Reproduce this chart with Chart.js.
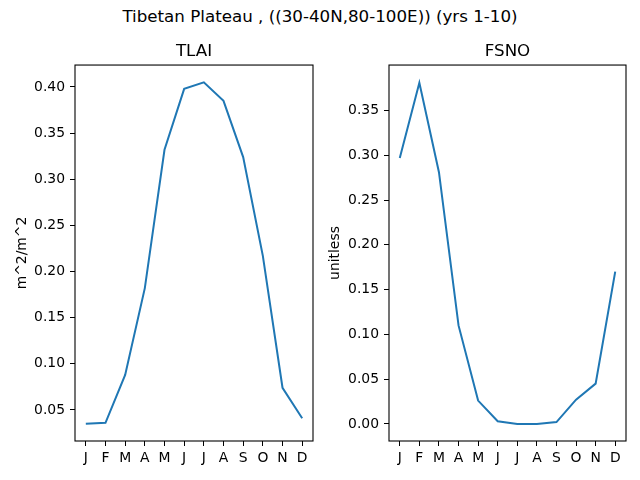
<!DOCTYPE html>
<html>
<head>
<meta charset="utf-8">
<script src="https://cdn.jsdelivr.net/npm/chart.js@4.4.0/dist/chart.umd.min.js"></script>
<style>
    body { margin: 0; background: #fff; }
    #wrap { position: relative; width: 640px; height: 480px; }
    #suptitle {
        position: absolute; left: 0; top: 6px; width: 640px; text-align: center;
        font-family: 'DejaVu Sans', sans-serif; font-size: 16.7px; color: #000;
    }
    .panel { position: absolute; top: 0; width: 320px; height: 480px; }
</style>
</head>
<body>
<div id="wrap">
    <div id="suptitle">Tibetan Plateau , ((30-40N,80-100E)) (yrs 1-10)</div>
    <div class="panel" style="left:0"><canvas id="tlaiChart"></canvas></div>
    <div class="panel" style="left:320px"><canvas id="fsnoChart"></canvas></div>
</div>
<script>
// Data
const months = ['J', 'F', 'M', 'A', 'M', 'J', 'J', 'A', 'S', 'O', 'N', 'D'];
const tlaiValues = [0.035, 0.036, 0.088, 0.182, 0.332, 0.398, 0.405, 0.385, 0.324, 0.217, 0.074, 0.041];
const fsnoValues = [0.297, 0.381, 0.281, 0.110, 0.026, 0.003, 0.000, 0.000, 0.002, 0.027, 0.045, 0.170];
const tlaiTicks = [0.05, 0.10, 0.15, 0.20, 0.25, 0.30, 0.35, 0.40];
const fsnoTicks = [0.00, 0.05, 0.10, 0.15, 0.20, 0.25, 0.30, 0.35];

Chart.defaults.font.family = "'DejaVu Sans', sans-serif";
Chart.defaults.color = '#000';

// Draw the full box around the plot area like matplotlib spines,
// and centre the panel title over the plot area rather than the canvas
const frame = {
    id: 'frame',
    afterLayout(chart) {
        if (chart.titleBlock) {
            chart.titleBlock.left = chart.chartArea.left;
            chart.titleBlock.right = chart.chartArea.right;
        }
    },
    afterDraw(chart) {
        const a = chart.chartArea;
        const ctx = chart.ctx;
        ctx.save();
        ctx.strokeStyle = '#000';
        ctx.lineWidth = 1.1;
        ctx.strokeRect(a.left, a.top, a.right - a.left, a.bottom - a.top);
        ctx.restore();
    }
};

function makePanel(canvasId, title, yLabel, values, ticks, yMin, yMax, yWidth, titlePad, rightPad) {
    const ctx = document.getElementById(canvasId);
    return new Chart(ctx, {
        type: 'line',
        data: {
            datasets: [{
                data: values.map((v, i) => ({ x: i, y: v })),
                borderColor: '#1f77b4',
                borderWidth: 2,
                pointRadius: 0,
                tension: 0,
                fill: false
            }]
        },
        options: {
            responsive: true,
            maintainAspectRatio: false,
            animation: false,
            layout: { padding: { left: 0, right: rightPad, top: 0, bottom: 0 } },
            plugins: {
                legend: { display: false },
                tooltip: { enabled: false },
                title: {
                    display: true,
                    text: title,
                    font: { size: 16.7, weight: 'normal' },
                    padding: { top: 42, bottom: 3 }
                }
            },
            scales: {
                x: {
                    type: 'linear',
                    min: -0.55,
                    max: 11.55,
                    afterBuildTicks: s => { s.ticks = months.map((m, i) => ({ value: i })); },
                    afterFit: s => { s.height = 39; },
                    ticks: {
                        autoSkip: false,
                        maxRotation: 0,
                        padding: 4,
                        font: { size: 13.9 },
                        callback: v => months[v]
                    },
                    grid: { drawOnChartArea: false, tickLength: 5, color: '#000', lineWidth: 1 },
                    border: { display: false }
                },
                y: {
                    min: yMin,
                    max: yMax,
                    afterBuildTicks: s => { s.ticks = ticks.map(v => ({ value: v })); },
                    afterFit: s => { s.width = yWidth; },
                    ticks: {
                        padding: 5,
                        font: { size: 13.9 },
                        callback: v => v.toFixed(2)
                    },
                    grid: { drawOnChartArea: false, tickLength: 5, color: '#000', lineWidth: 1 },
                    border: { display: false },
                    title: {
                        display: true,
                        text: yLabel,
                        font: { size: 13.9 },
                        padding: { top: titlePad, bottom: 0 }
                    }
                }
            }
        },
        plugins: [frame]
    });
}

makePanel('tlaiChart', 'TLAI', 'm^2/m^2', tlaiValues, tlaiTicks, 0.0163, 0.4238, 75, 13.7, 7);
makePanel('fsnoChart', 'FSNO', 'unitless', fsnoValues, fsnoTicks, -0.0191, 0.4007, 69, 6.7, 14);
</script>
</body>
</html>
